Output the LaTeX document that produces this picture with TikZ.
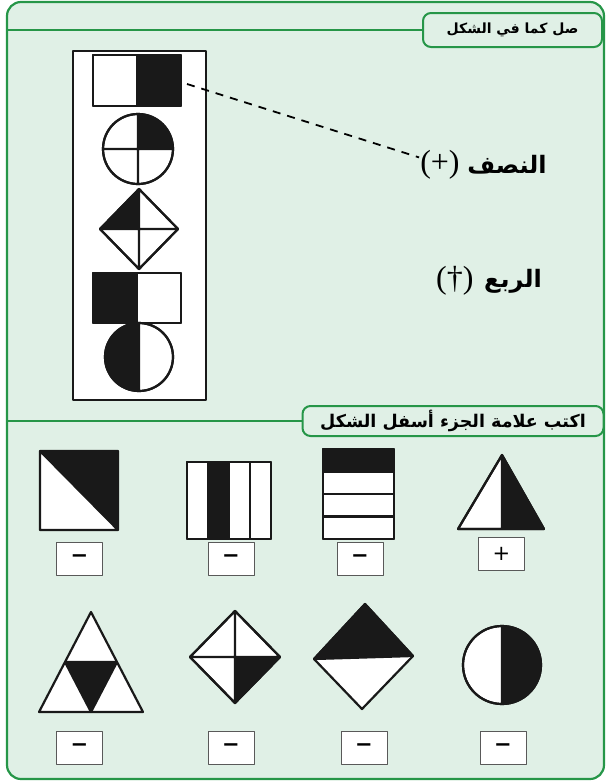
\documentclass[tikz,border=0pt]{standalone}
\usepackage{fontspec}
\setmainfont{Liberation Serif}
\newfontfamily\arabicfont[Script=Arabic]{DejaVu Sans}
\newfontfamily\symfont{DejaVu Sans}
\TeXXeTstate=1
\usetikzlibrary{positioning}
\definecolor{framegreen}{RGB}{38,150,72}
\definecolor{panelgreen}{RGB}{224,240,230}
\begin{document}
\begin{tikzpicture}[x=1pt, y=-1pt, line join=round,
    fig/.style={draw=black!90, line width=2.2pt, fill=white},
    blk/.style={fill=black!90},
    hdr/.style={draw=framegreen, line width=2pt, fill=panelgreen, rounded corners=8pt, inner sep=0pt, font=\arabicfont\bfseries},
    ansbox/.style={draw=black!65, line width=1pt, fill=white, minimum width=46pt, minimum height=33pt, inner sep=0pt, font=\symfont\fontsize{21}{21}\selectfont},
    word/.style={font=\arabicfont\bfseries\fontsize{24}{28}\selectfont},
    sign/.style={font=\fontsize{32}{32}\selectfont, inner sep=1pt}]
    \useasboundingbox (0,0) rectangle (607,782);
    \draw[framegreen, line width=2.2pt, fill=panelgreen, rounded corners=14pt] (7,2) rectangle (604,779);
    \coordinate (edgeone) at (7,30);
    \coordinate (edgetwo) at (7,421);
    \node[hdr, minimum width=179pt, minimum height=34pt] (hdrone) at (512.5,30) {\fontsize{14}{16}\selectfont\beginR صل كما في الشكل\endR};
    \node[hdr, minimum width=301pt, minimum height=30pt] (hdrtwo) at (453,421) {\fontsize{17.5}{19}\selectfont\beginR اكتب علامة الجزء أسفل الشكل\endR};
    \draw[framegreen, line width=2pt] (edgeone) -- (hdrone.west) (edgetwo) -- (hdrtwo.west);
    % left column
    \draw[fig, line width=1.8pt] (73,51) rectangle (206,400);
    \filldraw[fig] (93,55) rectangle (181,106);
    \fill[blk] (137,55) rectangle (181,106);
    \draw[fig, fill=none] (93,55) rectangle (181,106) (137,55) -- (137,106);
    \filldraw[fig] (138,149) circle (35);
    \fill[blk] (138,149) -- (173,149) arc (0:-90:35) -- cycle;
    \draw[fig, fill=none] (138,149) circle (35) (103,149) -- (173,149) (138,114) -- (138,184);
    \filldraw[fig] (139,189) -- (178,229) -- (139,269) -- (100,229) -- cycle;
    \fill[blk] (139,189) -- (100,229) -- (139,229) -- cycle;
    \draw[fig, fill=none] (139,189) -- (178,229) -- (139,269) -- (100,229) -- cycle (100,229) -- (178,229) (139,189) -- (139,269);
    \filldraw[fig] (93,273) rectangle (181,323);
    \fill[blk] (93,273) rectangle (137,323);
    \draw[fig, fill=none] (93,273) rectangle (181,323) (137,273) -- (137,323);
    \filldraw[fig] (139,357) circle (34);
    \fill[blk] (139,323) arc (-90:-270:34) -- cycle;
    \draw[fig, fill=none] (139,357) circle (34) (139,323) -- (139,391);
    % labels
    \node[word] (halfword) at (507,165) {\beginR النصف\endR};
    \node[sign, left=3pt of halfword] (halfsign) {(+)};
    \node[word] (quarterword) at (513,281) {\beginR الربع\endR};
    \node[sign, left=6pt of quarterword] (quartersign) {(†)};
    \coordinate (halfsq) at (187,84);
    \draw[dash pattern=on 8pt off 7pt, line width=1.8pt] (halfsq) -- (halfsign.160);
    % bottom shapes
    \filldraw[fig] (40,451) rectangle (118,530);
    \fill[blk] (40,451) -- (118,451) -- (118,530) -- cycle;
    \draw[fig, fill=none] (40,451) rectangle (118,530) (40,451) -- (118,530);
    \filldraw[fig] (187,462) rectangle (271,539);
    \fill[blk] (208,462) rectangle (229,539);
    \draw[fig, fill=none] (187,462) rectangle (271,539);
    \foreach \x in {208,229,250} \draw[fig] (\x,462) -- (\x,539);
    \filldraw[fig] (323,449) rectangle (394,539);
    \fill[blk] (323,449) rectangle (394,471.5);
    \draw[fig, fill=none] (323,449) rectangle (394,539);
    \foreach \y in {471.5,494,516.5} \draw[fig] (323,\y) -- (394,\y);
    \filldraw[fig] (502,455) -- (544,529) -- (458,529) -- cycle;
    \fill[blk] (502,455) -- (544,529) -- (502,529) -- cycle;
    \draw[fig, fill=none] (502,455) -- (544,529) -- (458,529) -- cycle (502,455) -- (502,529);
    \filldraw[fig] (91,612) -- (143,712) -- (39,712) -- cycle;
    \filldraw[fig, fill=black!90] (65,662) -- (117,662) -- (91,712) -- cycle;
    \filldraw[fig] (235,611) -- (280,657) -- (235,703) -- (190,657) -- cycle;
    \fill[blk] (235,657) -- (280,657) -- (235,703) -- cycle;
    \draw[fig, fill=none] (235,611) -- (280,657) -- (235,703) -- (190,657) -- cycle (190,657) -- (280,657) (235,611) -- (235,703);
    \filldraw[fig] (365,604) -- (413,656) -- (362,709) -- (314,659) -- cycle;
    \filldraw[fig, fill=black!90] (365,604) -- (413,656) -- (314,659) -- cycle;
    \filldraw[fig] (502,665) circle (39);
    \fill[blk] (502,626) arc (-90:90:39) -- cycle;
    \draw[fig, fill=none] (502,665) circle (39) (502,626) -- (502,704);
    \foreach \x/\y/\s [count=\i] in {79.5/558.5/\bfseries −, 231/558.5/\bfseries −, 360/558.5/\bfseries −, 501.5/553.5/+, 79.5/748/\bfseries −, 231/748/\bfseries −, 364/748/\bfseries −, 503/748/\bfseries −}
      \node[ansbox] (ans\i) at (\x,\y) {\s};
\end{tikzpicture}
\end{document}
